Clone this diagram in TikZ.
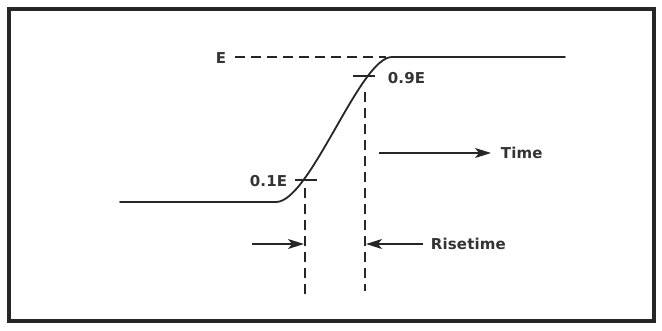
\documentclass[tikz,border=0pt]{standalone}
\usepackage{fontspec}
\setmainfont{DejaVu Sans}
\usetikzlibrary{arrows.meta, positioning, calc}

\begin{document}
\begin{tikzpicture}[x=1pt, y=-1pt, line width=1.8pt, color=black!85,
    lbl/.style={font=\fontsize{15}{17}\selectfont\bfseries\addfontfeatures{LetterSpace=1}, inner sep=0pt, text=black!80},
    guide/.style={line width=1.4pt, dash pattern=on 10pt off 6pt},
    pointer/.style={line width=1.5pt, -{Stealth[length=16pt, width=10pt, inset=4pt]}}]

        % 1. Frame
        \useasboundingbox (0,0) rectangle (662,330);
        \draw[line width=3.5pt] (9,9) rectangle (654,321);

        % 2. Reference points on the edge
        \coordinate (low) at (120,202);
        \coordinate (p10) at (304,180);
        \coordinate (p90) at (365,76);
        \coordinate (high) at (565,57);

        % 3. The rising edge
        \draw[line cap=round, line join=round] (low) -- (276,202)
            .. controls (310,202) and (360,57) .. (392,57)
            -- (high);

        % 4. Level ticks and labels
        \draw ($(p10)+(-9,0)$) -- ($(p10)+(13,0)$);
        \draw ($(p90)+(-12,0)$) -- ($(p90)+(10,0)$);
        \node[lbl, anchor=east] (ten) at (288,181) {0.1E};
        \node[lbl, anchor=west] (ninety) at (387,78) {0.9E};
        \node[lbl] (top) at (221,58) {E};

        % 5. Dashed guidelines
        \coordinate (e0) at (235,57);
        \coordinate (e1) at (386,57);
        \draw[guide] (e0) -- (e1);
        \coordinate (a0) at (305,188);
        \coordinate (a1) at (305,295);
        \coordinate (b0) at (365,92);
        \coordinate (b1) at (365,291);
        \draw[guide] (a0) -- (a1);
        \draw[guide] (b0) -- (b1);

        % 6. Time axis arrow
        \node[lbl, anchor=west] (time) at (500,153) {Time};
        \coordinate (t0) at (379,153);
        \draw[pointer] (t0) -- ($(time.west)+(-9,0)$);

        % 7. Risetime arrows
        \node[lbl, anchor=west] (rise) at (430,244) {Risetime};
        \coordinate (r0) at (252,244);
        \draw[pointer] (r0) -- (304,244);
        \draw[pointer] ($(rise.west)+(-7,0)$) -- (366,244);

\end{tikzpicture}
\end{document}
